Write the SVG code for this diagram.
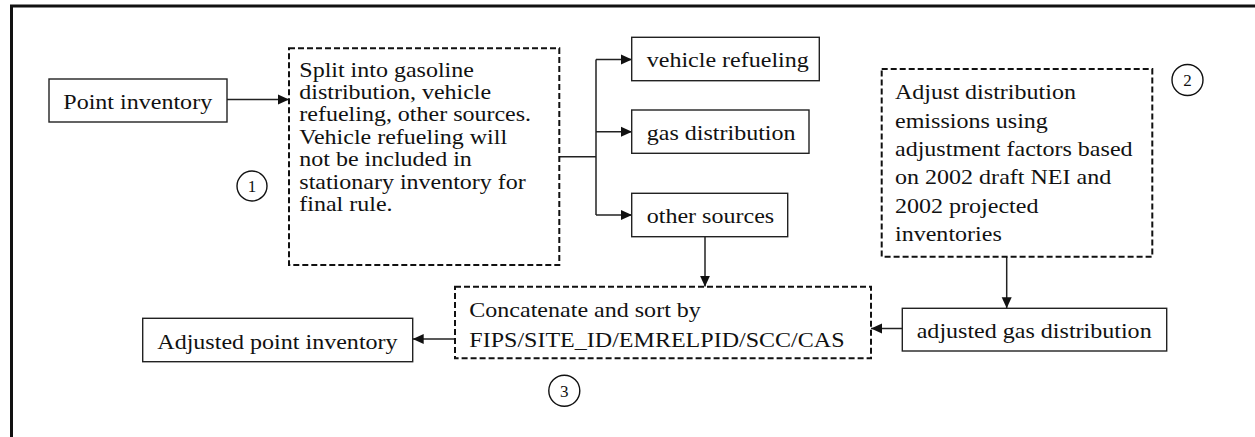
<svg xmlns="http://www.w3.org/2000/svg" width="1255" height="437" viewBox="0 0 1255 437">
<style>
.t{font-family:"Liberation Serif","Times New Roman",serif;font-size:22px;fill:#111}
.ts{font-family:"Liberation Serif","Times New Roman",serif;font-size:20px;fill:#111}
.n{font-family:"Liberation Serif","Times New Roman",serif;font-size:17px;fill:#111;text-anchor:middle}
.box{fill:#fff;stroke:#222;stroke-width:1.4}
.dbox{fill:#fff;stroke:#111;stroke-width:2;stroke-dasharray:6 3}
.c{fill:none;stroke:#111;stroke-width:1.4}
.ln{fill:none;stroke:#222;stroke-width:1.5}
</style>
<defs>
<marker id="ah" markerUnits="userSpaceOnUse" markerWidth="12" markerHeight="12" viewBox="0 0 12 12" refX="11" refY="6" orient="auto">
<path d="M0,1 L11,6 L0,11 Z" fill="#111"/>
</marker>
</defs>
<rect x="11.5" y="6" width="1260" height="450" fill="none" stroke="#111" stroke-width="3"/>

<g id="connectors">
<line class="ln" x1="227" y1="99.5" x2="289" y2="99.5" marker-end="url(#ah)"/>
<polyline class="ln" points="559,156.7 596,156.7"/>
<line class="ln" x1="596" y1="59.5" x2="596" y2="215"/>
<line class="ln" x1="596" y1="59.5" x2="632" y2="59.5" marker-end="url(#ah)"/>
<line class="ln" x1="596" y1="131.7" x2="632" y2="131.7" marker-end="url(#ah)"/>
<line class="ln" x1="596" y1="215" x2="632" y2="215" marker-end="url(#ah)"/>
<line class="ln" x1="705" y1="236.7" x2="705" y2="286.7" marker-end="url(#ah)"/>
<line class="ln" x1="1006.7" y1="256.7" x2="1006.7" y2="308.3" marker-end="url(#ah)"/>
<line class="ln" x1="902.3" y1="328.5" x2="871" y2="328.5" marker-end="url(#ah)"/>
<line class="ln" x1="455" y1="339" x2="412.7" y2="339" marker-end="url(#ah)"/>
</g>

<g id="point-inventory">
<rect class="box" x="49" y="79" width="178" height="43"/>
<text class="t" transform="translate(63.3 109.3) scale(1.093 1)">Point inventory</text>
</g>

<g id="split">
<rect class="dbox" x="289" y="48.3" width="270.3" height="216.7"/>
<text class="ts" transform="translate(299.3 76.5) scale(1.2 1)"><tspan x="0" y="0">Split into gasoline</tspan><tspan x="0" y="22.5">distribution, vehicle</tspan><tspan x="0" y="45">refueling, other sources.</tspan><tspan x="0" y="67.5">Vehicle refueling will</tspan><tspan x="0" y="90">not be included in</tspan><tspan x="0" y="112.5">stationary inventory for</tspan><tspan x="0" y="135">final rule.</tspan></text>
</g>

<g id="label-1">
<circle class="c" cx="252" cy="186" r="15"/>
<text class="n" x="252" y="192">1</text>
</g>

<g id="vehicle-refueling">
<rect class="box" x="631.7" y="37.3" width="187.6" height="43.4"/>
<text class="t" transform="translate(646.7 66.5) scale(1.093 1)">vehicle refueling</text>
</g>

<g id="gas-distribution">
<rect class="box" x="631.7" y="110" width="177.3" height="43.3"/>
<text class="t" transform="translate(646.7 139.5) scale(1.093 1)">gas distribution</text>
</g>

<g id="other-sources">
<rect class="box" x="631.7" y="193.3" width="156" height="43.4"/>
<text class="t" transform="translate(646.7 223.3) scale(1.093 1)">other sources</text>
</g>

<g id="adjust">
<rect class="dbox" x="881.7" y="69" width="270.6" height="187.7"/>
<text class="t" transform="translate(895 99.3) scale(1.093 1)"><tspan x="0" y="0">Adjust distribution</tspan><tspan x="0" y="28.4">emissions using</tspan><tspan x="0" y="56.8">adjustment factors based</tspan><tspan x="0" y="85.2">on 2002 draft NEI and</tspan><tspan x="0" y="113.6">2002 projected</tspan><tspan x="0" y="142">inventories</tspan></text>
</g>

<g id="label-2">
<circle class="c" cx="1187.5" cy="80" r="15.5"/>
<text class="n" x="1187.5" y="86">2</text>
</g>

<g id="adjusted-gas">
<rect class="box" x="902.3" y="308.3" width="264.4" height="42.7"/>
<text class="t" transform="translate(916.7 338.3) scale(1.093 1)">adjusted gas distribution</text>
</g>

<g id="concatenate">
<rect class="dbox" x="455" y="286.7" width="416" height="71.6"/>
<text class="t" transform="translate(469.3 317.3) scale(1.093 1)"><tspan x="0" y="0">Concatenate and sort by</tspan><tspan x="0" y="29.4">FIPS/SITE_ID/EMRELPID/SCC/CAS</tspan></text>
</g>

<g id="label-3">
<circle class="c" cx="564.3" cy="390.7" r="15.5"/>
<text class="n" x="564.3" y="396.7">3</text>
</g>

<g id="adjusted-point">
<rect class="box" x="142.7" y="318.3" width="270" height="43.4"/>
<text class="t" transform="translate(157.3 349.3) scale(1.093 1)">Adjusted point inventory</text>
</g>
</svg>
